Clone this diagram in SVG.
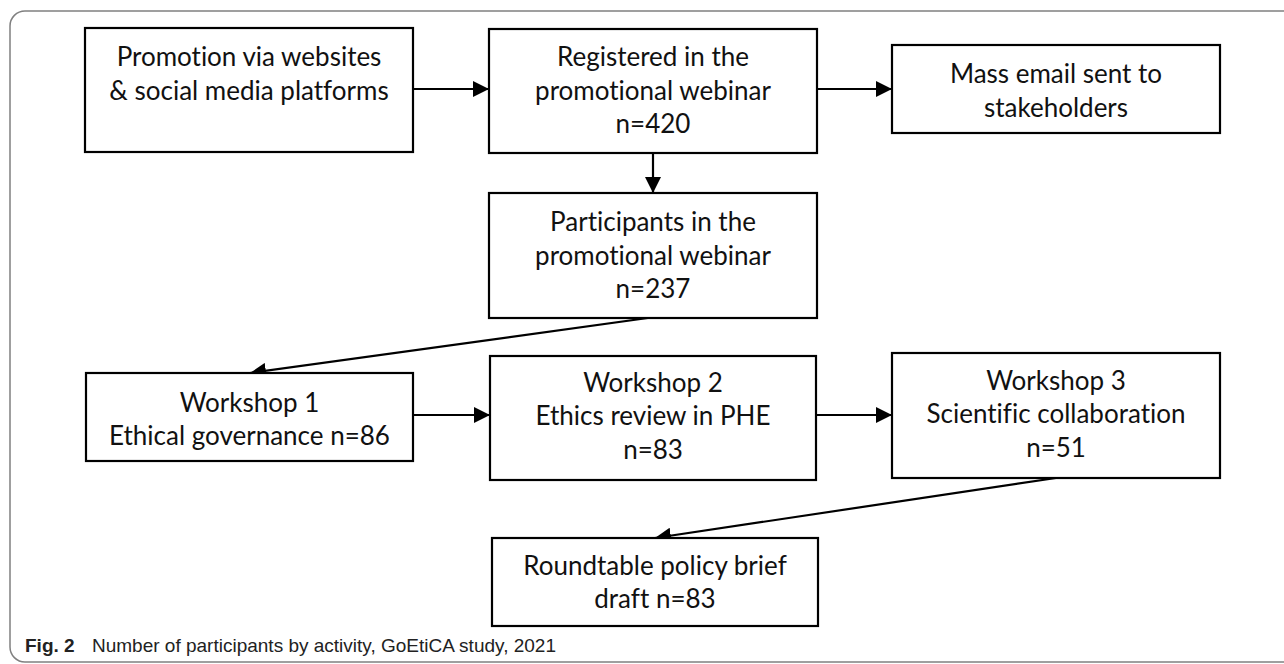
<svg xmlns="http://www.w3.org/2000/svg" width="1284" height="664" viewBox="0 0 1284 664">
<defs>
<style>
.box{fill:#fff;stroke:#000;stroke-width:2.2}
.t{font-family:"Lato","Liberation Sans",sans-serif;font-size:26px;fill:#111;text-anchor:middle;font-variant-ligatures:none}
.c{stroke:#000;stroke-width:2.2;fill:none;marker-end:url(#ah)}
.cap{font-family:"Liberation Sans",sans-serif;font-size:19px;fill:#222}
</style>
<marker id="ah" markerUnits="userSpaceOnUse" markerWidth="18" markerHeight="16" refX="16" refY="8" orient="auto">
<path d="M0,0 L16,8 L0,16 Z" fill="#000"/>
</marker>
</defs>
<rect width="1284" height="664" fill="#fff"/>
<path d="M1290,11 H25 A15,15 0 0 0 10,26 V647 A15,15 0 0 0 25,662 H1290" fill="none" stroke="#808080" stroke-width="1.5"/>
<g id="connectors">
<line class="c" x1="413" y1="89" x2="489" y2="89"/>
<line class="c" x1="817" y1="89" x2="892" y2="89"/>
<line class="c" x1="653" y1="153" x2="653" y2="193"/>
<line class="c" x1="655" y1="317" x2="250" y2="373"/>
<line class="c" x1="413" y1="415" x2="490" y2="415"/>
<line class="c" x1="816" y1="415" x2="892" y2="415"/>
<line class="c" x1="1056" y1="478" x2="655" y2="538"/>
</g>
<g id="n1">
<rect class="box" x="85" y="28" width="328" height="124"/>
<text class="t" x="249" y="66">Promotion via websites</text>
<text class="t" x="249" y="100">&amp; social media platforms</text>
</g>
<g id="n2">
<rect class="box" x="489" y="29" width="328" height="124"/>
<text class="t" x="653" y="66">Registered in the</text>
<text class="t" x="653" y="100">promotional webinar</text>
<text class="t" x="653" y="133">n=420</text>
</g>
<g id="n3">
<rect class="box" x="892" y="45" width="328" height="88"/>
<text class="t" x="1056" y="83">Mass email sent to</text>
<text class="t" x="1056" y="117">stakeholders</text>
</g>
<g id="n4">
<rect class="box" x="489" y="193" width="328" height="125"/>
<text class="t" x="653" y="231">Participants in the</text>
<text class="t" x="653" y="265">promotional webinar</text>
<text class="t" x="653" y="298">n=237</text>
</g>
<g id="n5">
<rect class="box" x="86" y="373" width="327" height="88"/>
<text class="t" x="249.5" y="412">Workshop 1</text>
<text class="t" x="249.5" y="445">Ethical governance n=86</text>
</g>
<g id="n6">
<rect class="box" x="490" y="356" width="326" height="124"/>
<text class="t" x="653" y="392">Workshop 2</text>
<text class="t" x="653" y="425">Ethics review in PHE</text>
<text class="t" x="653" y="459">n=83</text>
</g>
<g id="n7">
<rect class="box" x="892" y="353" width="328" height="125"/>
<text class="t" x="1056" y="390">Workshop 3</text>
<text class="t" x="1056" y="423">Scientific collaboration</text>
<text class="t" x="1056" y="457">n=51</text>
</g>
<g id="n8">
<rect class="box" x="492" y="538" width="326" height="88"/>
<text class="t" x="655" y="575">Roundtable policy brief</text>
<text class="t" x="655" y="608">draft n=83</text>
</g>
<text class="cap" x="25" y="652"><tspan font-weight="bold">Fig. 2</tspan><tspan x="92">Number of participants by activity, GoEtiCA study, 2021</tspan></text>
</svg>
